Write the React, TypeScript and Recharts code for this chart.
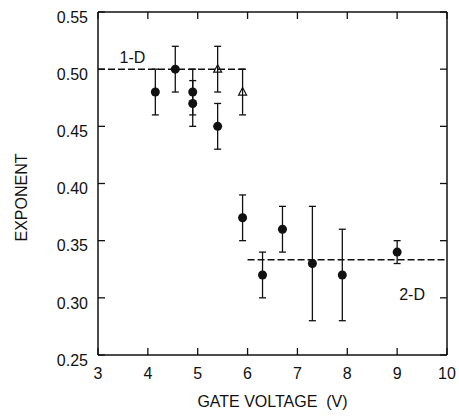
import {
    ComposedChart,
    Scatter,
    XAxis,
    YAxis,
    ErrorBar,
    ReferenceLine,
    ReferenceDot
} from 'recharts'

// filled circles
const circleVoltage = [4.15, 4.55, 4.9, 4.9, 5.4, 5.9, 6.3, 6.7, 7.3, 7.9, 9.0]
const circleExponent = [0.48, 0.5, 0.48, 0.47, 0.45, 0.37, 0.32, 0.36, 0.33, 0.32, 0.34]
const circleError = [0.02, 0.02, 0.02, 0.02, 0.02, 0.02, 0.02, 0.02, 0.05, 0.04, 0.01]

// open triangles
const triangleVoltage = [5.4, 5.9]
const triangleExponent = [0.5, 0.48]
const triangleError = [0.02, 0.02]

const voltageTicks = [3, 4, 5, 6, 7, 8, 9, 10]
const exponentTicks = [0.25, 0.3, 0.35, 0.4, 0.45, 0.5, 0.55]

const circles = circleVoltage.map((v, i) => ({ v, e: circleExponent[i], err: circleError[i] }))
const triangles = triangleVoltage.map((v, i) => ({ v, e: triangleExponent[i], err: triangleError[i] }))

const font = '"Liberation Sans", Arial, sans-serif'
const ink = '#111'
const TICK = 7

const Dot = (p: any) => <circle cx={p.cx} cy={p.cy} r={4.5} fill={ink} />

const Tri = (p: any) => {
    const { cx, cy } = p
    return (
        <polygon
            points={`${cx},${cy - 4.5} ${cx - 4},${cy + 3} ${cx + 4},${cy + 3}`}
            fill="none"
            stroke={ink}
            strokeWidth={1.2}
        />
    )
}

// ticks point inward, so each tick component draws its own short line
const LeftTick = (p: any) => (
    <g>
        <line x1={p.x + 10} y1={p.y} x2={p.x + 10 + TICK} y2={p.y} stroke={ink} strokeWidth={1.3} />
        <text x={p.x} y={p.y + 5} dy="0.355em" textAnchor="end" fontSize={16} fontFamily={font} fill={ink}>
            {p.payload.value.toFixed(2)}
        </text>
    </g>
)

const BottomTick = (p: any) => (
    <g>
        <line x1={p.x} y1={p.y - 13} x2={p.x} y2={p.y - 13 - TICK} stroke={ink} strokeWidth={1.3} />
        <text x={p.x} y={p.y} dy="0.71em" textAnchor="middle" fontSize={16} fontFamily={font} fill={ink}>
            {p.payload.value}
        </text>
    </g>
)

const TopTick = (p: any) => (
    <line x1={p.x} y1={p.y} x2={p.x} y2={p.y + TICK} stroke={ink} strokeWidth={1.3} />
)

const RightTick = (p: any) => (
    <line x1={p.x} y1={p.y} x2={p.x - TICK} y2={p.y} stroke={ink} strokeWidth={1.3} />
)

export default function App() {
    return (
        <div style={{ position: 'absolute', left: 0, top: 0, background: '#fff' }}>
            <ComposedChart width={459} height={417} margin={{ top: 11, right: 11, left: 0, bottom: 0 }}>
                <XAxis
                    dataKey="v"
                    type="number"
                    domain={[3, 10]}
                    ticks={voltageTicks}
                    height={62}
                    stroke={ink}
                    strokeWidth={1.5}
                    tickLine={false}
                    tickSize={0}
                    tickMargin={13}
                    tick={<BottomTick />}
                    label={{
                        value: 'GATE VOLTAGE\u00a0 (V)',
                        position: 'insideBottom',
                        offset: 10,
                        fontSize: 16,
                        fontFamily: font,
                        fill: ink
                    }}
                />
                <XAxis
                    xAxisId="top"
                    dataKey="v"
                    orientation="top"
                    type="number"
                    domain={[3, 10]}
                    ticks={voltageTicks}
                    height={1}
                    stroke={ink}
                    strokeWidth={1.5}
                    tickLine={false}
                    tickSize={0}
                    tickMargin={0}
                    tick={<TopTick />}
                />
                <YAxis
                    dataKey="e"
                    type="number"
                    domain={[0.25, 0.55]}
                    ticks={exponentTicks}
                    width={98}
                    stroke={ink}
                    strokeWidth={1.5}
                    tickLine={false}
                    tickSize={0}
                    tickMargin={10}
                    tick={<LeftTick />}
                    label={{
                        value: 'EXPONENT',
                        angle: -90,
                        position: 'insideLeft',
                        offset: 21,
                        dy: 14,
                        fontSize: 16,
                        fontFamily: font,
                        fill: ink,
                        style: { textAnchor: 'middle' }
                    }}
                />
                <YAxis
                    yAxisId="right"
                    dataKey="e"
                    orientation="right"
                    type="number"
                    domain={[0.25, 0.55]}
                    ticks={exponentTicks}
                    width={1}
                    stroke={ink}
                    strokeWidth={1.5}
                    tickLine={false}
                    tickSize={0}
                    tickMargin={0}
                    tick={<RightTick />}
                />
                <ReferenceLine
                    segment={[{ x: 3, y: 0.5 }, { x: 6, y: 0.5 }]}
                    stroke={ink}
                    strokeWidth={1.5}
                    strokeDasharray="7 3"
                />
                <ReferenceLine
                    segment={[{ x: 6, y: 1 / 3 }, { x: 10, y: 1 / 3 }]}
                    stroke={ink}
                    strokeWidth={1.5}
                    strokeDasharray="7 3"
                />
                <ReferenceDot
                    x={3.69}
                    y={0.51}
                    r={0}
                    stroke="none"
                    label={{ value: '1-D', position: 'center', fontSize: 16, fontFamily: font, fill: ink }}
                />
                <ReferenceDot
                    x={9.3}
                    y={0.303}
                    r={0}
                    stroke="none"
                    label={{ value: '2-D', position: 'center', fontSize: 16, fontFamily: font, fill: ink }}
                />
                <Scatter data={circles} dataKey="e" shape={Dot} isAnimationActive={false}>
                    <ErrorBar dataKey="err" direction="y" width={3.5} stroke={ink} strokeWidth={1.3} />
                </Scatter>
                {/* triangles sit on the top/right axes (same domains) so those axes get ticks */}
                <Scatter
                    data={triangles}
                    dataKey="e"
                    xAxisId="top"
                    yAxisId="right"
                    shape={Tri}
                    isAnimationActive={false}
                >
                    <ErrorBar dataKey="err" direction="y" width={3.5} stroke={ink} strokeWidth={1.3} />
                </Scatter>
            </ComposedChart>
        </div>
    )
}
